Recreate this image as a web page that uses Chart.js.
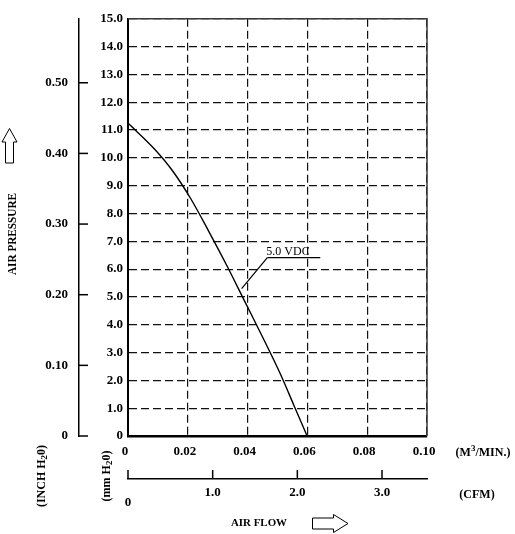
<!DOCTYPE html>
<html>
<head>
<meta charset="utf-8">
<script src="https://cdn.jsdelivr.net/npm/chart.js@4/dist/chart.umd.min.js"></script>
<style>
html, body { margin: 0; padding: 0; background: #fff; }
#wrap { width: 515px; height: 534px; }
</style>
</head>
<body>
<div id="wrap"><canvas id="pqChart" width="515" height="534"></canvas></div>
<script>
// P-Q curve: air flow (m3/min) vs static pressure (mm H2O)
const flowM3 = [0, 0.009, 0.015, 0.021, 0.027, 0.033, 0.039, 0.045, 0.051, 0.0555, 0.0599];
const pressureMm = [11.25, 10.3, 9.52, 8.53, 7.36, 6.14, 4.85, 3.56, 2.22, 1.1, 0];
const curveName = '5.0 VDC';

const flowTicks = [0, 0.02, 0.04, 0.06, 0.08, 0.10];
const cfmTicks = [0, 1, 2, 3];
const mmTicks = [0, 1, 2, 3, 4, 5, 6, 7, 8, 9, 10, 11, 12, 13, 14, 15];
const inchTicks = [0, 0.1, 0.2, 0.3, 0.4, 0.5];

const MM_PER_INCH = 25.4;
const M3_PER_CFM = 0.0283168;

const serif = '"Liberation Serif", "Times New Roman", serif';
const tickFont = { family: serif, size: 13, weight: 'bold' };

function setTicks(list) {
    return axis => { axis.ticks = list.map(value => ({ value })); };
}

// extra bits: frame, secondary axis ticks, titles, arrows, curve label
const extras = {
    id: 'extras',
    afterDraw(chart) {
        const { ctx, chartArea: a, scales } = chart;
        const line = (x1, y1, x2, y2) => {
            ctx.beginPath(); ctx.moveTo(x1, y1); ctx.lineTo(x2, y2); ctx.stroke();
        };
        ctx.save();

        ctx.strokeStyle = '#3a3a3a';
        ctx.lineWidth = 1.5;
        ctx.beginPath();
        ctx.moveTo(a.left, a.top); ctx.lineTo(a.right, a.top); ctx.lineTo(a.right, a.bottom);
        ctx.stroke();

        ctx.strokeStyle = '#000';
        const yi = scales.yInch;
        yi.ticks.forEach(t => {
            const y = yi.getPixelForValue(t.value);
            line(yi.right, y, yi.right + 9, y);
        });
        const xc = scales.xCfm;
        xc.ticks.forEach(t => {
            const x = xc.getPixelForValue(t.value);
            line(x, xc.top, x, xc.top - 9);
        });

        // curve label with leader line
        const xs = scales.x, ys = scales.y;
        const lx = xs.getPixelForValue(0.0466), ly = ys.getPixelForValue(6.41);
        ctx.lineWidth = 1.2;
        line(xs.getPixelForValue(0.038), ys.getPixelForValue(5.3), lx, ly);
        line(lx, ly, xs.getPixelForValue(0.0643), ly);
        ctx.fillStyle = '#000';
        ctx.font = '12px ' + serif;
        ctx.textAlign = 'center';
        ctx.textBaseline = 'alphabetic';
        ctx.fillText(curveName, xs.getPixelForValue(0.0535), ly - 3);

        // rich text: parts with sub/superscripts, centred on (x, y)
        const rich = (parts, x, y, size, rot) => {
            ctx.save();
            ctx.translate(x, y);
            if (rot) ctx.rotate(-Math.PI / 2);
            ctx.textAlign = 'left';
            ctx.textBaseline = 'middle';
            const fontOf = p => 'bold ' + (p.sub || p.sup ? size - 3 : size) + 'px ' + serif;
            let w = 0;
            parts.forEach(p => { ctx.font = fontOf(p); w += ctx.measureText(p.t).width; });
            let cx = -w / 2;
            parts.forEach(p => {
                ctx.font = fontOf(p);
                const dy = p.sub ? 3 : p.sup ? -4 : 0;
                ctx.fillText(p.t, cx, dy);
                cx += ctx.measureText(p.t).width;
            });
            ctx.restore();
        };
        const fitText = (text, x, y, size, width, rot) => {
            ctx.save();
            ctx.translate(x, y);
            if (rot) ctx.rotate(-Math.PI / 2);
            ctx.font = 'bold ' + size + 'px ' + serif;
            const k = width / ctx.measureText(text).width;
            ctx.scale(k, 1);
            ctx.textAlign = 'center';
            ctx.textBaseline = 'middle';
            ctx.fillText(text, 0, 0);
            ctx.restore();
        };

        fitText('AIR PRESSURE', 13, 234, 12, 82, true);
        fitText('AIR FLOW', 259, 523, 11, 56, false);
        rich([{ t: '(INCH H' }, { t: '2', sub: true }, { t: '0)' }], 42, 476, 12, true);
        rich([{ t: '(mm H' }, { t: '2', sub: true }, { t: '0)' }], 107, 476, 12, true);
        rich([{ t: '(M' }, { t: '3', sup: true }, { t: '/MIN.)' }], 483, 453, 12, false);
        rich([{ t: '(CFM)' }], 477, 495, 12, false);

        // hollow arrows
        ctx.lineWidth = 1;
        ctx.strokeStyle = '#000';
        const poly = pts => {
            ctx.beginPath();
            pts.forEach((p, i) => i ? ctx.lineTo(p[0], p[1]) : ctx.moveTo(p[0], p[1]));
            ctx.closePath();
            ctx.stroke();
        };
        poly([[9.5, 128.5], [17, 142], [13.5, 142], [13.5, 163], [5.5, 163], [5.5, 142], [2, 142]]);
        poly([[312.5, 518], [333.5, 518], [333.5, 514.5], [348, 523.5], [333.5, 532.5], [333.5, 529], [312.5, 529]]);

        ctx.restore();
    }
};

const ctx = document.getElementById('pqChart').getContext('2d');
const pqChart = new Chart(ctx, {
    type: 'scatter',
    data: {
        datasets: [{
            label: curveName,
            data: flowM3.map((x, i) => ({ x: x, y: pressureMm[i] })),
            showLine: true,
            borderColor: '#000',
            borderWidth: 1.4,
            pointRadius: 0,
            cubicInterpolationMode: 'monotone'
        }]
    },
    options: {
        responsive: false,
        animation: false,
        layout: { padding: { top: 15, right: 88, left: 0, bottom: 0 } },
        plugins: { legend: { display: false }, tooltip: { enabled: false } },
        scales: {
            x: {
                type: 'linear', position: 'bottom', weight: 0,
                min: 0, max: 0.10,
                afterBuildTicks: setTicks(flowTicks),
                afterFit: axis => { axis.height = 43; },
                grid: { color: '#111', lineWidth: 1.2, drawTicks: false },
                border: { color: '#000', width: 2.5, dash: [8, 4] },
                ticks: {
                    font: tickFont, color: '#000', padding: 8, labelOffset: -3,
                    maxRotation: 0,
                    callback: v => v === 0 ? '0' : v.toFixed(2)
                }
            },
            xCfm: {
                type: 'linear', position: 'bottom', weight: 1,
                min: 0, max: 0.10 / M3_PER_CFM,
                afterBuildTicks: setTicks(cfmTicks),
                afterFit: axis => { axis.height = 55; },
                grid: { drawOnChartArea: false, drawTicks: false },
                border: { color: '#000', width: 1.5 },
                ticks: {
                    font: { family: serif, size: 13, weight: 'bold', lineHeight: 0.75 },
                    color: '#000', padding: 9, maxRotation: 0,
                    callback: v => v === 0 ? ['', '0'] : v.toFixed(1)
                }
            },
            y: {
                type: 'linear', position: 'left', weight: 0,
                min: 0, max: 15,
                afterBuildTicks: setTicks(mmTicks),
                afterFit: axis => { axis.width = 49; },
                grid: { color: '#111', lineWidth: 1.2, drawTicks: false },
                border: { color: '#000', width: 2, dash: [8, 4] },
                ticks: {
                    font: tickFont, color: '#000', padding: 5,
                    callback: v => v === 0 ? '0' : v.toFixed(1)
                }
            },
            yInch: {
                type: 'linear', position: 'left', weight: 1,
                min: 0, max: 15 / MM_PER_INCH,
                afterBuildTicks: setTicks(inchTicks),
                afterFit: axis => { axis.width = 79; },
                grid: { drawOnChartArea: false, drawTicks: false },
                border: { color: '#000', width: 1.5 },
                ticks: {
                    font: tickFont, color: '#000', padding: 11,
                    callback: v => v === 0 ? '0' : v.toFixed(2)
                }
            }
        }
    },
    plugins: [extras]
});
</script>
</body>
</html>
